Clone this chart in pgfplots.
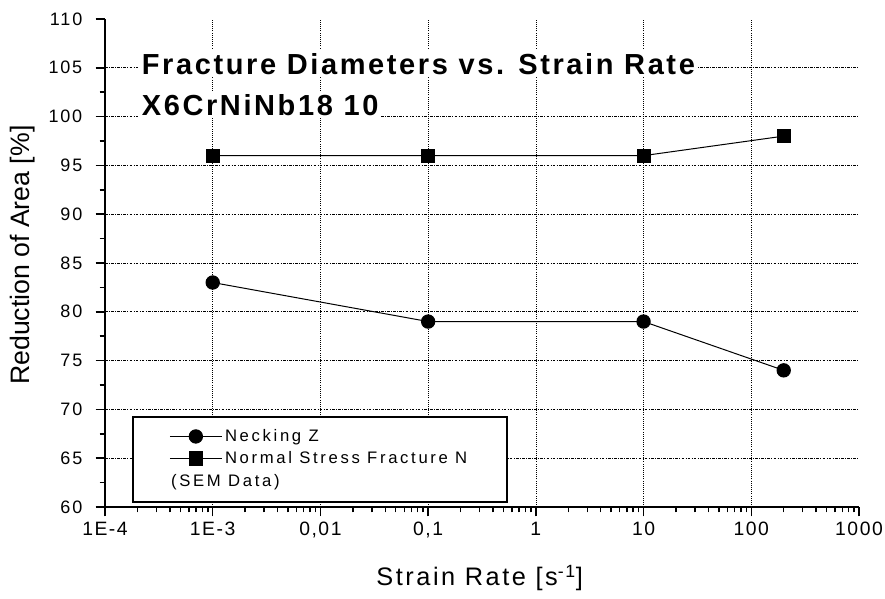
\documentclass[border=0pt]{standalone}
\usepackage{pgfplots}
\pgfplotsset{compat=1.18}
\usepackage{fontspec}
\setmainfont{Liberation Sans}
\newfontfamily\ytickfont[LetterSpace=10]{Liberation Sans}
\newfontfamily\xtickfont[LetterSpace=8]{Liberation Sans}
\newfontfamily\legfont[LetterSpace=16]{Liberation Sans}
\newfontfamily\xlabfont[LetterSpace=10]{Liberation Sans}
\newfontfamily\titlefont[LetterSpace=9]{Liberation Sans}
\begin{document}
\begin{tikzpicture}
\useasboundingbox (-78.75pt,-69pt) rectangle (585pt,380.25pt);
\begin{axis}[
  at={(0pt,0pt)}, anchor=south west,
  scale only axis,
  width=565.5pt, height=366pt,
  xmode=log,
  xmin=1e-4, xmax=1000,
  ymin=60, ymax=110,
  axis lines*=left,
  axis line style={line width=1.3pt, black},
  tick style={line width=1.1pt, black},
  tick align=outside,
  major tick length=7pt,
  minor tick length=4pt,
  xtick={1e-4,1e-3,1e-2,1e-1,1,10,100},
  xticklabels={1E-4,1E-3,{0,01},{0,1},1,10,100},
  extra x ticks={1000},
  extra x tick labels={1000},
  extra x tick style={grid=none},
  minor xtick={2e-4,3e-4,4e-4,5e-4,6e-4,7e-4,8e-4,9e-4,
    2e-3,3e-3,4e-3,5e-3,6e-3,7e-3,8e-3,9e-3,
    2e-2,3e-2,4e-2,5e-2,6e-2,7e-2,8e-2,9e-2,
    0.2,0.3,0.4,0.5,0.6,0.7,0.8,0.9,
    2,3,4,5,6,7,8,9,
    20,30,40,50,60,70,80,90,
    200,300,400,500,600,700,800,900},
  ytick={60,65,...,105},
  extra y ticks={110},
  extra y tick style={grid=none},
  minor y tick num=1,
  xmajorgrids, ymajorgrids,
  x grid style={black, line width=0.5pt, dash pattern=on 0.6pt off 1pt},
  y grid style={black, line width=0.5pt, dash pattern=on 2pt off 1pt on 0.6pt off 1pt},
  /pgf/number format/assume math mode=true,
  x tick label style={font=\xtickfont\fontsize{14.5}{16}\selectfont, yshift=-1pt},
  y tick label style={font=\ytickfont\fontsize{13.5}{15}\selectfont, xshift=-6.5pt},
  xlabel={Strain Rate [s\textsuperscript{-1}]},
  ylabel={Reduction of Area [\%]},
  xlabel style={font=\xlabfont\fontsize{19}{22}\selectfont, at={(axis description cs:0.497,-0.1455)}, anchor=center},
  ylabel style={font=\fontsize{20}{24}\selectfont, at={(axis description cs:-0.1088,0.516)}, anchor=center},
  legend style={at={(axis description cs:0.085,0.165)}, anchor=north west, draw=none, fill=none,
    font=\legfont\fontsize{12.5}{14}\selectfont, inner sep=0pt, row sep=2pt},
  legend cell align=left,
  legend image code/.code={\draw[#1, mark repeat=2, mark phase=2] plot coordinates {(0pt,0pt) (19.5pt,0pt) (39pt,0pt)};},
  clip=false,
]
\draw[line width=1.5pt, fill=white] (axis description cs:0.0371,0.0102) rectangle (axis description cs:0.533,0.1844);
\node[anchor=west, font=\legfont\fontsize{12.5}{14}\selectfont, inner sep=0pt] at (axis description cs:0.0875,0.0512) {(SEM Data)};
\addplot[black, line width=0.75pt, mark=*, mark size=5pt, mark options={solid, fill=black}]
  coordinates {(1e-3,83) (0.1,79) (10,79) (200,74)};
\addlegendentry{Necking Z}
\addplot[black, line width=0.75pt, mark=square*, mark size=4.9pt, mark options={solid, fill=black}]
  coordinates {(1e-3,96) (0.1,96) (10,96) (200,98)};
\addlegendentry{Normal Stress Fracture N}
\node[anchor=base west, fill=white, inner sep=2pt, font=\titlefont\bfseries\fontsize{21.75}{26}\selectfont] at (axis description cs:0.045,0.887) {Fracture Diameters vs. Strain Rate};
\node[anchor=base west, fill=white, inner sep=2pt, font=\titlefont\bfseries\fontsize{21.75}{26}\selectfont] at (axis description cs:0.045,0.803) {X6CrNiNb18 10};
\end{axis}
\end{tikzpicture}
\end{document}
